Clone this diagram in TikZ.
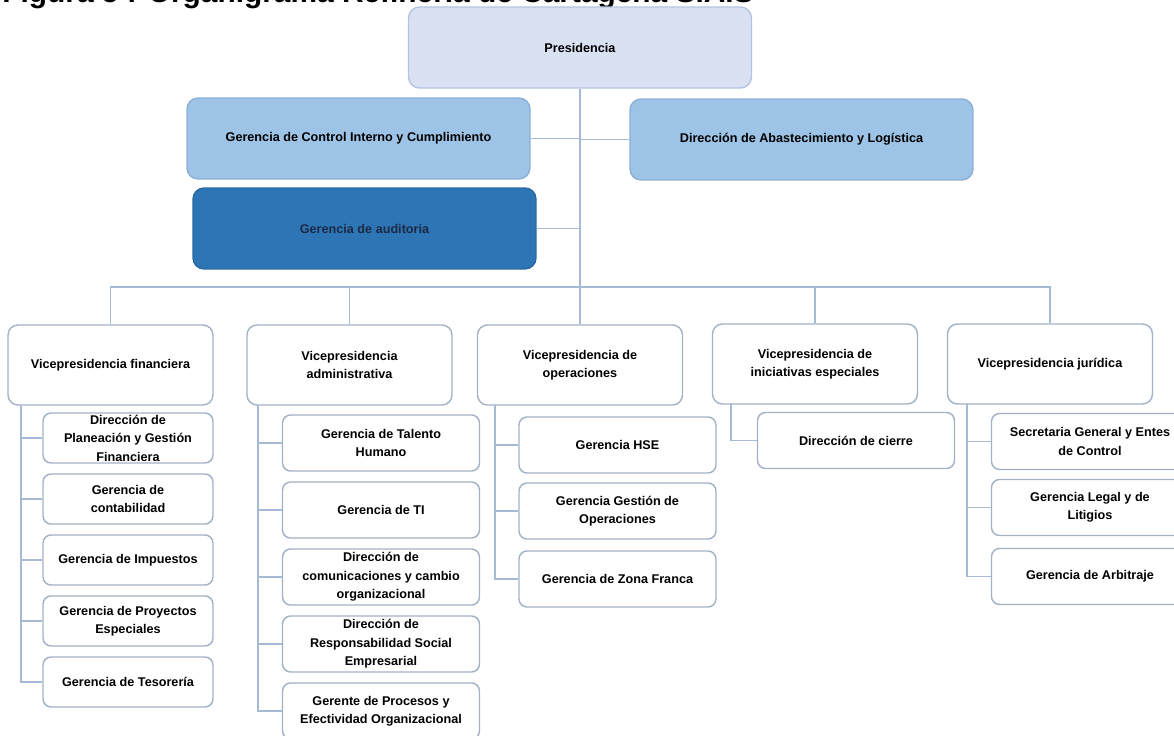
\documentclass[tikz,border=0pt]{standalone}
\usepackage{fontspec}
\setmainfont{Liberation Sans}

\definecolor{presfill}{HTML}{DAE1F2}
\definecolor{presline}{HTML}{B3C4E2}
\definecolor{midfill}{HTML}{9DC3E6}
\definecolor{midline}{HTML}{8AB0D8}
\definecolor{audfill}{HTML}{2E75B6}
\definecolor{audline}{HTML}{2A68A3}
\definecolor{audtext}{HTML}{1C2A45}
\definecolor{boxline}{HTML}{A3B1C4}
\definecolor{linecol}{HTML}{A7BAD5}

\begin{document}
\begin{tikzpicture}[
            x={(0.02cm,0cm)},
            y={(0cm,-0.02cm)},
            font=\bfseries\fontsize{7.2}{10.5}\selectfont,
            box/.style={draw=boxline, fill=white, line width=0.8pt, rounded corners=0.16cm, align=center, inner sep=1pt},
            topbox/.style={box, minimum width=6.86cm, minimum height=1.62cm, rounded corners=0.22cm},
            vicebox/.style={box, minimum width=4.1cm, minimum height=1.6cm, rounded corners=0.2cm},
            subbox/.style={box, minimum width=3.94cm, minimum height=1.12cm},
            finbox/.style={box, minimum width=3.4cm, minimum height=1.0cm},
            link/.style={draw=linecol, line width=0.8pt}
        ]

        \useasboundingbox (0,0) rectangle (1174,736);
        \clip (0,0) rectangle (1174,736);

        % title, cut at the top of the page
        \node[anchor=base west, inner sep=0pt, font=\bfseries\fontsize{17}{20}\selectfont] (tit) at (2,3) {Figura 5 : Organigrama Refinería de Cartagena S.A.S};

        % top of the chart
        \node[topbox, draw=presline, fill=presfill] (pres) at (580, 47.5) {Presidencia};
        \node[topbox, draw=midline, fill=midfill] (ctrl) at (358.5, 138.5) {Gerencia de Control Interno y Cumplimiento};
        \node[topbox, draw=midline, fill=midfill] (abast) at (801.5, 139.5) {Dirección de Abastecimiento y Logística};
        \node[topbox, draw=audline, fill=audfill, text=audtext] (audit) at (364.5, 228.5) {Gerencia de auditoria};

        % vicepresidencias
        \node[vicebox] (vfin) at (110.5, 365) {Vicepresidencia financiera};
        \node[vicebox] (vadm) at (349.5, 365) {Vicepresidencia\\administrativa};
        \node[vicebox] (vope) at (580, 365) {Vicepresidencia de\\operaciones};
        \node[vicebox] (vini) at (815, 364) {Vicepresidencia de\\iniciativas especiales};
        \node[vicebox] (vjur) at (1050, 364) {Vicepresidencia jurídica};

        % financiera
        \node[finbox] (f1) at (128, 438) {Dirección de\\Planeación y Gestión\\Financiera};
        \node[finbox] (f2) at (128, 499) {Gerencia de\\contabilidad};
        \node[finbox] (f3) at (128, 560) {Gerencia de Impuestos};
        \node[finbox] (f4) at (128, 621) {Gerencia de Proyectos\\Especiales};
        \node[finbox] (f5) at (128, 682) {Gerencia de Tesorería};

        % administrativa
        \node[subbox] (a1) at (381, 443) {Gerencia de Talento\\Humano};
        \node[subbox] (a2) at (381, 510) {Gerencia de TI};
        \node[subbox] (a3) at (381, 577) {Dirección de\\comunicaciones y cambio\\organizacional};
        \node[subbox] (a4) at (381, 644) {Dirección de\\Responsabilidad Social\\Empresarial};
        \node[subbox] (a5) at (381, 711) {Gerente de Procesos y\\Efectividad Organizacional};

        % operaciones
        \node[subbox] (o1) at (617.5, 445) {Gerencia HSE};
        \node[subbox] (o2) at (617.5, 511) {Gerencia Gestión de\\Operaciones};
        \node[subbox] (o3) at (617.5, 579) {Gerencia de Zona Franca};

        % iniciativas especiales
        \node[subbox] (i1) at (856, 440.5) {Dirección de cierre};

        % juridica
        \node[subbox] (j1) at (1090, 441.5) {Secretaria General y Entes\\de Control};
        \node[subbox] (j2) at (1090, 507.5) {Gerencia Legal y de\\Litigios};
        \node[subbox] (j3) at (1090, 576.5) {Gerencia de Arbitraje};

        \coordinate (bus) at (580, 287);
        \coordinate (sfin) at (21, 405);
        \coordinate (sadm) at (258, 405);
        \coordinate (sope) at (495, 405);
        \coordinate (sini) at (731, 404);
        \coordinate (sjur) at (967, 404);

        % spine
        \draw[link] (pres.south) -- (vope.north);
        \draw[link] (ctrl.east) -- (ctrl.east -| pres.south);
        \draw[link] (abast.west) -- (abast.west -| pres.south);
        \draw[link] (audit.east) -- (audit.east -| pres.south);

        % bus to the vicepresidencias
        \draw[link] (vfin.north) -- (vfin.north |- bus) -- (vjur.north |- bus) -- (vjur.north);
        \draw[link] (vadm.north) -- (vadm.north |- bus);
        \draw[link] (vini.north) -- (vini.north |- bus);

        % branches
        \draw[link] (sfin) |- (f5.west);
        \draw[link] (sfin |- f1.west) -- (f1.west);
        \draw[link] (sfin |- f2.west) -- (f2.west);
        \draw[link] (sfin |- f3.west) -- (f3.west);
        \draw[link] (sfin |- f4.west) -- (f4.west);

        \draw[link] (sadm) |- (a5.west);
        \draw[link] (sadm |- a1.west) -- (a1.west);
        \draw[link] (sadm |- a2.west) -- (a2.west);
        \draw[link] (sadm |- a3.west) -- (a3.west);
        \draw[link] (sadm |- a4.west) -- (a4.west);

        \draw[link] (sope) |- (o3.west);
        \draw[link] (sope |- o1.west) -- (o1.west);
        \draw[link] (sope |- o2.west) -- (o2.west);

        \draw[link] (sini) |- (i1.west);

        \draw[link] (sjur) |- (j3.west);
        \draw[link] (sjur |- j1.west) -- (j1.west);
        \draw[link] (sjur |- j2.west) -- (j2.west);

        \end{tikzpicture}
\end{document}
